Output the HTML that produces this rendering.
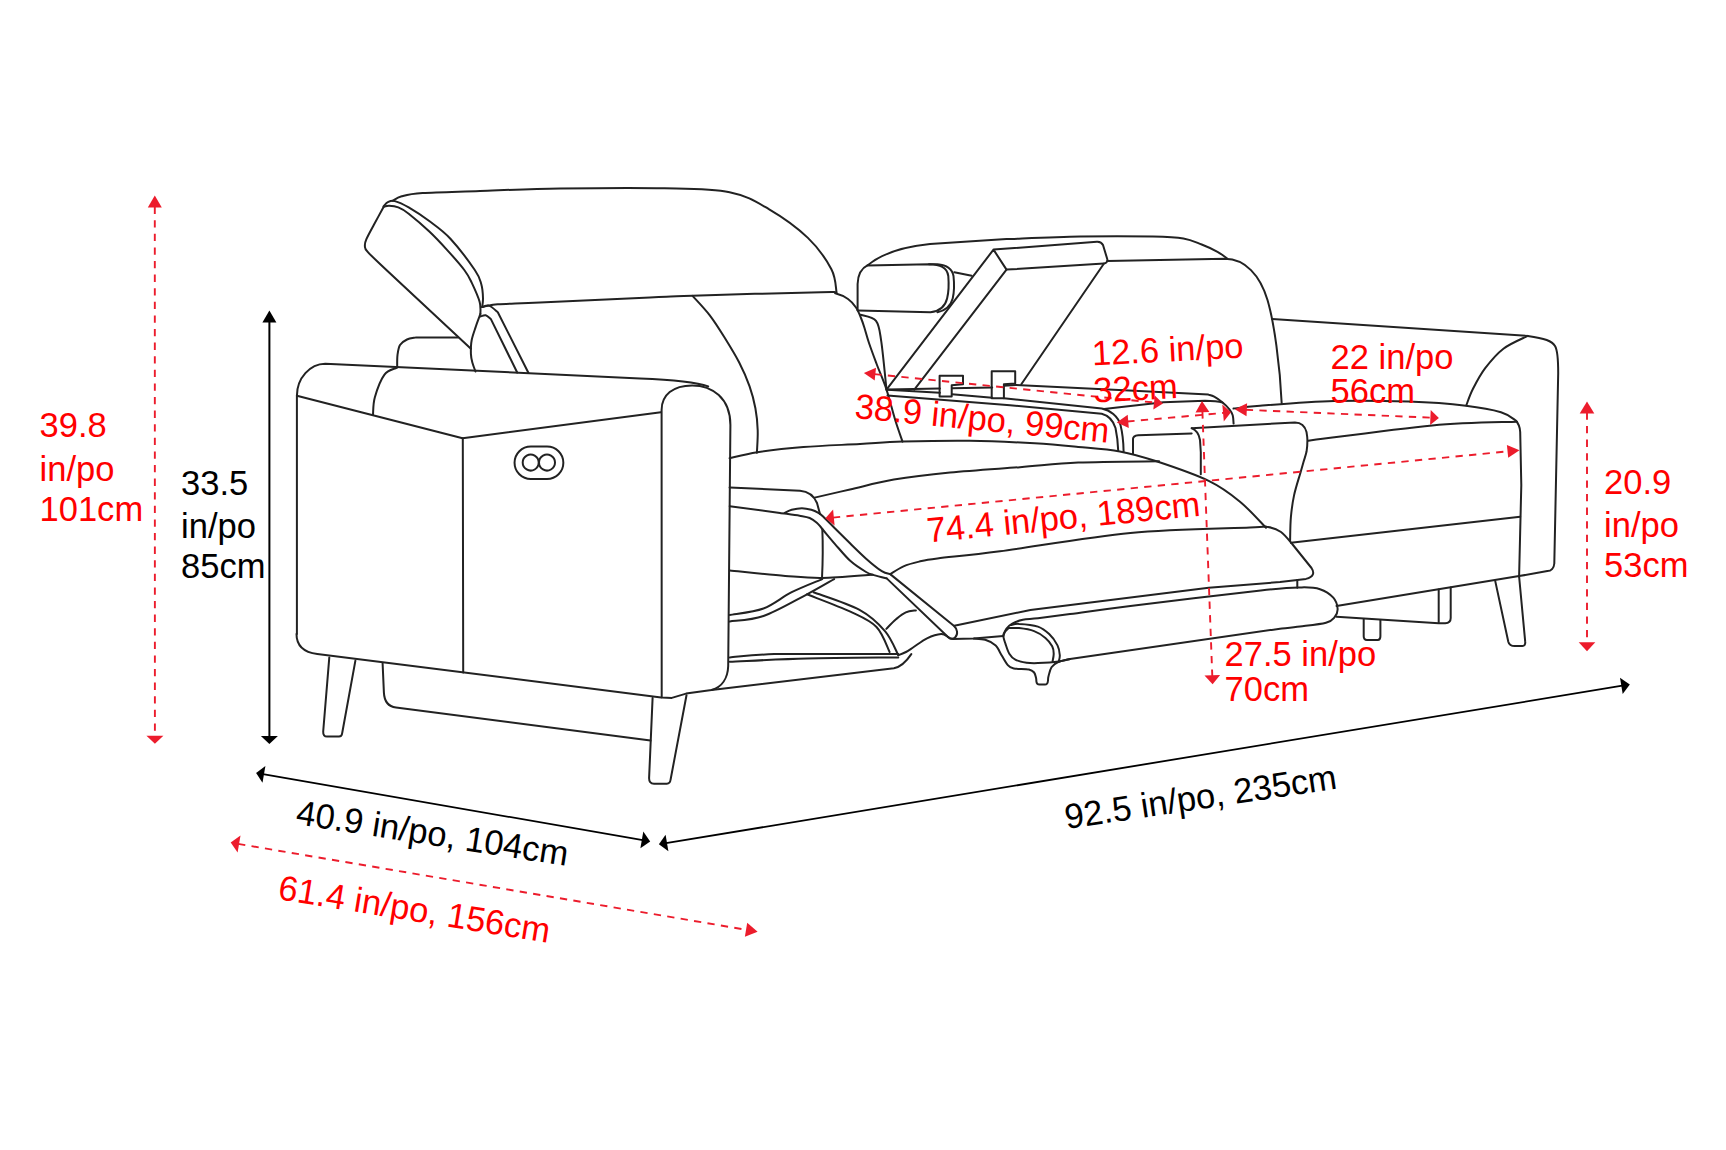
<!DOCTYPE html>
<html><head><meta charset="utf-8">
<style>
html,body{margin:0;padding:0;background:#fff;}
body{width:1726px;height:1150px;overflow:hidden;}
svg{display:block;}
text{font-family:"Liberation Sans",sans-serif;font-size:35px;}
.r{fill:#ff0000;}
.k{fill:#000;}
</style></head><body>
<svg width="1726" height="1150" viewBox="0 0 1726 1150">
<g fill="none" stroke="#222" stroke-width="2" stroke-linecap="round" stroke-linejoin="round">
<path d="M383.7,206.7 C382.1,209.7 376.8,219.4 373.9,224.8 C371,230.2 367.8,235.9 366.3,239.4 C364.8,242.9 364.7,243.6 364.9,245.7 C365.1,247.8 364.1,247.8 367.7,251.9 C371.3,256 383.3,267 386.4,270 L470.9,348.7"/>
<path d="M383.7,206.7 C384.6,206.5 386.8,205.6 389.2,205.7 C391.6,205.8 395.1,206.1 398.3,207.4 C401.6,208.7 403.5,209.6 408.7,213.7 C413.9,217.8 423.2,225.7 429.6,231.7 C436,237.7 441.2,243.4 447,249.8 C452.8,256.2 460.2,264.5 464.3,270 C468.4,275.5 469.1,277.3 471.7,282.6 C474.2,287.9 478.2,296.5 479.6,301.7 C481.1,306.9 480.3,311.9 480.4,313.9"/>
<path d="M480.4,313.9 C479.7,315.9 477.4,321.6 476,326 C474.6,330.4 472.6,335.4 471.7,340 C470.8,344.6 470.8,350.1 470.9,353.9 C471,357.7 471.7,360.1 472.5,363 C473.3,365.9 475,370.1 475.5,371.5"/>
<path d="M383.7,206.3 C384.4,205.6 385.9,203.1 387.8,202.2 C389.7,201.3 391.3,200.2 394.8,201.1 C398.3,202 402.9,204 408.7,207.4 C414.5,210.8 422.7,216.1 429.6,221.3 C436.6,226.5 442.9,230.6 450.4,238.7 C457.9,246.8 469.6,262.4 474.8,270 C480,277.6 479.9,279.6 481.3,284.3 C482.7,289 482.9,294.5 483,298.3 C483.1,302.1 482.3,305.6 482.2,307"/>
<path d="M392.7,200.8 C394.2,200.1 396.7,197.6 401.7,196.3 C406.7,195 409.6,194 422.6,193.1 C435.7,192.2 457.1,191.8 480,191 C502.9,190.2 529.3,188.9 560,188.5 C590.7,188.1 636.1,187.7 664.4,188.3 C692.7,188.9 712.2,188.7 729.6,192.2 C747,195.7 755.8,201.5 768.8,209.1 C781.8,216.7 797.5,227.9 807.9,237.9 C818.3,247.9 826.6,260.1 831.4,269.2 C836.2,278.3 835.7,288.7 836.6,292.6"/>
<path d="M482.2,307 C483.4,306.8 486.5,306.1 489.1,305.6 C491.7,305.2 489.3,304.8 497.8,304.3 C506.3,303.8 514.6,303.6 540,302.5 C565.4,301.4 624.6,298.5 650,297.4 C675.4,296.3 663.7,296.6 692.2,295.7 C720.7,294.8 796.9,292.6 820.9,292.2 C844.9,291.8 831.5,292.4 836,293.5 C840.5,294.6 844.7,296.7 848,299 C851.3,301.3 853.8,304.3 856,307.5 C858.2,310.7 859.6,314.6 861,318 C862.4,321.4 863.2,323.8 864.5,328 C865.8,332.2 866.9,336.8 869,343 C871.1,349.2 874.1,357.2 877,365 C879.9,372.8 883.5,380.4 886.5,389.6 C889.5,398.8 892.5,411.3 895.2,420 C897.9,428.7 901.3,438 902.5,441.6"/>
<path d="M482.2,307 C483.4,306.8 486.5,304.7 489.1,305.6 C491.7,306.5 496.4,311.1 497.8,312.2 L528.5,373"/>
<path d="M480.4,316.5 C481.3,316.3 483.9,314.8 485.7,315.2 C487.4,315.6 490,318.5 490.9,319.1 L517.2,372.5"/>
<path d="M692.6,295.9 C695.4,299.1 704.3,308.2 709.6,315.1 C714.9,322 719.5,329.4 724.4,337.3 C729.3,345.2 735,354.4 739.2,362.5 C743.4,370.6 746.8,378.6 749.5,386.2 C752.2,393.8 754,400.9 755.4,408.3 C756.8,415.7 757.5,423.1 757.7,430.5 C758,437.9 757,449 756.9,452.7"/>
<path d="M397.2,367.5 C397.2,365.4 397,358.8 397.5,355 C398,351.2 398.4,347.6 400,345 C401.6,342.4 404.3,340.8 407,339.5 C409.7,338.2 414.5,337.8 416,337.4 L457.8,337.4"/>
<path d="M296.9,633.9 L296.9,395.7 C297,378 310,364 325.2,363.8 L640,378.4 C670,379.5 695,381.5 708.2,386.4"/>
<path d="M396.5,367.8 C394.5,369 387.9,369.9 384.3,374.8 C380.7,379.7 376.7,390.7 374.8,397.4 C372.9,404.1 373.3,411.9 373,414.8"/>
<path d="M296.9,395.7 L462.6,438.3 L660.9,412.2"/>
<path d="M462.8,438.3 L463.2,672.6"/>
<path d="M661.7,697.4 L661.6,410 C661.6,395 673,385.4 692.2,385.4 C712,385.4 730.4,398 730.4,425 L728.2,666 C727.8,678 722,687 711.6,690 L686.1,693.6 L671.8,697.9 L661.7,697.4"/>
<path d="M296.5,633.9 C296.5,645 302,652 317.3,653.9 L661.1,697.4"/>
<path d="M530.9,446.4 L547,446.4 A16.3,16.3 0 0 1 547,479.1 L530.9,479.1 A16.3,16.3 0 0 1 530.9,446.4 Z"/>
<path d="M538.7,462.6 A8,8 0 1 1 538.7,462.5 Z"/>
<path d="M555,462.6 A8,8 0 1 1 555,462.5 Z"/>
<path d="M329.3,657.4 L323.2,731.5 C323,735 324.5,736.6 327,736.6 L339,736.6 C341,736.6 342,735 342.2,733 L355.4,660.6"/>
<path d="M382.6,663.3 L383.9,692.6 C384.3,701 388,706.5 396,707.5 L650.5,740.6"/>
<path d="M652.6,697.9 L649.1,777.9 C649,781.5 650.5,783.7 654,783.7 L666.8,783.7 C669,783.7 670.3,782 670.6,779.5 L686.5,695.2"/>
<path d="M729.6,458.3 C734.2,457.3 745.1,454.1 757.4,452.2 C769.7,450.3 786.4,448.4 803.5,447 C820.6,445.6 843.5,444.9 860,444 C876.5,443.1 884.2,442.1 902.5,441.6 C920.8,441.1 947.8,440.5 969.8,440.8 C991.8,441.1 1016.6,442.3 1034.7,443.3 C1052.8,444.3 1064,445.5 1078.2,446.9 C1092.4,448.2 1106.8,449 1119.8,451.4 C1132.8,453.8 1141.7,456.4 1156.5,461.3 C1171.3,466.2 1194.8,474.2 1208.7,480.9 C1222.6,487.6 1230.5,493.9 1240,501.7 C1249.5,509.5 1261.7,523.4 1266,527.8"/>
<path d="M814.6,497.6 C820.5,496.2 836.8,492.5 850,489.5 C863.2,486.5 877.2,482.4 893.9,479.6 C910.6,476.8 929,474.6 950,472.5 C971,470.4 998.6,468.8 1020,467.2 C1041.4,465.6 1055,463.6 1078.2,462.6 C1101.4,461.6 1145.6,461.5 1159.1,461.3"/>
<path d="M729.6,487.5 L800,490.8 C808,491.5 814,496 817,503 L820,514"/>
<path d="M729.7,506.2 L780,512.9 C783.3,513.4 794.6,514.9 799.6,515.7 C804.6,516.6 806.8,516.8 809.7,518 C812.6,519.2 814.7,520.9 816.8,522.7 C818.9,524.5 819.3,525.5 822.3,529 C825.3,532.5 830.1,538.4 834.8,543.8 C839.5,549.1 845.3,556.4 850.5,561.1 C855.7,565.8 862.2,569.7 866.1,572 C870,574.3 870.5,574 873.9,575.1 C877.3,576.2 884.6,577.9 886.7,578.4"/>
<path d="M784.7,512.9 C785.9,512.4 788.8,510.6 791.7,509.8 C794.6,509 798.6,508.2 801.9,508.2 C805.2,508.2 808.5,509 811.3,509.8 C814,510.6 816.3,511.7 818.4,512.9 C820.5,514.1 821.1,514.7 823.8,517.2 C826.5,519.8 830.3,523.8 834.8,528.2 C839.2,532.6 845.3,538.7 850.5,543.8 C855.7,548.9 860.9,554.1 866.1,558.7 C871.3,563.3 877.8,568.6 881.8,571.2 C885.8,573.8 888.8,573.6 890.2,574.1"/>
<path d="M822.3,529 C822.8,540 822.9,560 822,578.3"/>
<path d="M729.8,570.4 C739,571.3 769.8,574.6 785.2,575.9 C800.6,577.2 807.7,578.2 822.2,578 C836.7,577.8 863.9,575.3 872.2,574.8"/>
<path d="M890.2,574.1 C892.4,572.8 898.7,568.4 903.5,566.3 C908.3,564.2 913.5,562.9 919.1,561.6 C924.8,560.3 923.9,560.2 937.4,558.5 C950.9,556.8 967.8,555.5 1000,551.3 C1032.2,547 1088.7,537 1130.4,533 C1172.1,529 1227.1,528.5 1250,527.5 C1272.9,526.5 1262.8,526.2 1268,527 C1273.2,527.8 1276.9,529.1 1281,532 C1285.1,534.9 1290.7,542.4 1292.6,544.5 L1311.5,568 C1314.5,572.5 1314,577 1306,578.9 L1280,582 L1208.7,587.8 L1030.4,610 L954.3,625.8"/>
<path d="M890.2,574.1 L953.8,625.8 C957.5,629 958.2,634.5 955.3,637.3 C953.5,639 950.5,639.3 948,637 L886.7,578.4"/>
<path d="M973.9,638.6 C975.8,638.8 981.6,638.7 985.2,639.8 C988.8,640.9 993.2,643.2 995.7,645.4 C998.2,647.6 998.3,649.6 1000.3,652.9 C1002.3,656.2 1005.5,662.6 1007.8,665.2 C1010,667.8 1010.3,667.7 1013.8,668.4 C1017.3,669.1 1025.5,668.8 1028.9,669.5 C1032.3,670.2 1032.9,671.1 1034.1,672.5 C1035.3,673.9 1035.6,676.3 1036,677.8 C1036.4,679.3 1036.3,680.9 1036.4,681.5 C1036.6,684 1037.5,684.6 1039.5,684.6 L1045,684.6 C1047,684.6 1047.8,683 1048,680.5 C1048.1,679.8 1047.9,678.5 1048.5,676.3 C1049.1,674.1 1049.9,669.6 1051.5,667.2 C1053.1,664.8 1055.1,663.4 1058.2,662 C1061.3,660.6 1068,659.5 1070,659"/>
<path d="M948,637 C950,639 951.5,639 953,639 L973.9,638.6 L1003.3,636"/>
<path d="M1003.3,636 C1003.8,634.8 1004.8,630.9 1006.3,628.8 C1007.8,626.7 1009.5,625.1 1012.3,623.6 C1015,622.1 1018.5,620.7 1022.8,619.8 C1027.1,618.9 1030,619.2 1037.9,618.3 C1045.8,617.3 1054.6,616.1 1070,614.1 C1085.4,612.1 1098.6,610 1130.4,606 C1162.2,602 1232.2,593.5 1260.8,590.4 C1289.3,587.3 1291.8,587.6 1301.7,587.4 C1311.6,587.2 1314.7,587.5 1320,589.2 C1325.3,590.9 1330.4,594.5 1333.3,597.7 C1336.2,601 1337.4,605.5 1337.6,608.7 C1337.8,612 1336.5,614.9 1334.6,617.2 C1332.7,619.5 1331.8,621.2 1326,622.7 C1320.2,624.2 1307.7,625.5 1300,626.5 C1292.3,627.5 1283.3,628.3 1280,628.7 L1070,659"/>
<path d="M1010.8,625.1 C1012.2,624.9 1014.6,623.6 1019.1,623.9 C1023.6,624.1 1032.9,624.9 1037.9,626.6 C1042.9,628.3 1045.9,631 1049.2,634.1 C1052.5,637.2 1055.7,641.9 1057.5,645.4 C1059.3,648.9 1059.6,652.4 1059.8,655.2 C1060,658 1058.8,660.9 1058.6,662"/>
<path d="M1008.5,628.1 C1010.3,628.1 1014.8,627.6 1019.1,628.1 C1023.4,628.6 1029.7,629.5 1034.1,631.1 C1038.5,632.7 1042.4,635.4 1045.4,637.9 C1048.4,640.4 1050.8,643.6 1052.2,646.2 C1053.6,648.8 1053.6,651.2 1053.7,653.7 C1053.8,656.2 1052.8,660 1052.6,661.2"/>
<path d="M1008.5,628.1 C1007.9,628.8 1005.7,630.7 1004.8,632 C1003.9,633.3 1003.2,634 1003.3,636 C1003.4,638 1004.5,640.9 1005.5,643.9 C1006.5,646.9 1007.7,651.1 1009.3,653.7 C1010.9,656.3 1012.4,658.2 1015.3,659.7 C1018.2,661.2 1022.8,662.1 1026.6,662.7 C1030.4,663.3 1032.6,663.3 1037.9,663.1 C1043.2,662.9 1053.2,662.3 1058.6,661.6 C1063.9,660.9 1068.1,659.4 1070,659"/>
<path d="M1297.3,580 L1297.3,587.8"/>
<path d="M729.8,615 C735.4,613.9 753.2,612.3 763.5,608.5 C773.8,604.7 781.9,597.1 791.7,592.2 C801.5,587.3 817.1,581.3 822.2,579.1"/>
<path d="M729.8,621.5 C735.4,620.6 750.6,620.5 763.5,616 C776.4,611.5 795.2,600.4 807,594.3 C818.8,588.1 829.6,581.6 834.1,579.1"/>
<path d="M807,594.3 C814.2,597.2 838.8,606.2 850.4,611.7 C862,617.2 870,620.3 876.5,627 C883,633.7 887.4,647.8 889.6,652"/>
<path d="M813.5,592.2 C821.1,595.1 847.1,603.1 859.1,609.6 C871.1,616.1 878.7,623.7 885.2,631.3 C891.7,638.9 896.1,651.2 898.3,655.2"/>
<path d="M729.8,657.4 C737.2,656.9 754.2,654.6 774.3,654.1 C794.4,653.6 829.7,654.1 850.4,654.1 C871.1,654.1 890.3,654.1 898.3,654.1"/>
<path d="M729.8,661.7 C742.7,661.2 778.9,659.2 807,658.5 C835.1,657.8 883.1,657.6 898.3,657.4"/>
<path d="M886.3,628.9 C887.9,627.3 892.5,622.2 895.7,619.5 C899,616.8 902.4,613.9 905.8,612.4 C909.2,610.9 914.2,610.7 915.9,610.4"/>
<path d="M898.3,655.2 C899.6,654.7 903.4,653.4 906,652 C908.6,650.6 910.2,649.3 913.7,647 C917.2,644.7 922.4,640.5 927,638.3 C931.6,636.1 937.6,634.2 941.1,634 C944.6,633.8 946.9,636.5 948,637"/>
<path d="M711.6,690 L893.9,668.3 C900,667 906,662 911.3,654.1"/>
<path d="M857.6,310.4 L857.6,284 C858,273 862,268 867.8,265.2 C880,255 900,247 930,244 L1006.5,239.1 C1018.8,238.7 1055.6,237 1080,236.6 C1104.4,236.2 1135.8,236.3 1153,236.6 C1170.2,236.9 1175.3,237.1 1183.4,238.4 C1191.5,239.7 1196,242.3 1201.7,244.5 C1207.4,246.7 1213.2,249.5 1217.5,251.8 C1221.8,254.1 1225.6,257.4 1227.2,258.5"/>
<path d="M867.4,265.5 L929,264.3 C940,264.5 947,267 948.3,276 C949,285 948.5,293 947.1,298.4 C945.5,305 941,311 930.4,312.3 L857.8,310.4"/>
<path d="M929,264.3 L937.4,264.3 C946,265 952,268 953.5,276 C954.5,285 954,293 952.7,298.4 C951,305 947,310 937.4,312.3"/>
<path d="M954.3,272.2 L971.7,275.7"/>
<path d="M860.4,314.8 C863,315.8 872.5,316.4 876,320.9 C879.5,325.4 879.5,330.2 881.3,341.7 C883,353.1 885.6,381.6 886.5,389.6"/>
<path d="M886.5,389.6 L993.5,249.6 L1096.9,241.7 C1100,241.5 1102,243 1103,245 L1107.4,259.5 C1107.5,262 1106,263.5 1104,263.5 L1006.5,269.6 L993.5,249.6"/>
<path d="M1006.5,269.6 L914.3,389.6"/>
<path d="M1104,263.5 L1021.3,384.3"/>
<path d="M939.6,375.7 L963,375.7 L963,384.3 L951.7,385.2 L951.7,396.5 L939.6,396.5 Z"/>
<path d="M991.7,371.3 L1015.2,371.3 L1015.2,383.5 L1003.9,384.3 L1003.9,398.3 L991.7,398.3 Z"/>
<path d="M887.2,389.4 L939.9,388.6 M951.9,388.2 L992.2,387.5 M1003.9,385.8 L1015.7,385 L1129,390.5 L1208.4,394.6 C1209.4,395 1211.8,395.4 1214.2,396.7 C1216.6,398 1220.1,400.5 1222.6,402.6 C1225.1,404.7 1227.7,407.2 1229.4,409.3 C1231.1,411.4 1232,412.8 1232.7,415.2 C1233.4,417.6 1233.4,422.2 1233.6,423.6"/>
<path d="M887.2,389.8 L939.9,392.8 M951.9,394.3 L992.2,397.7 M1003.9,398.2 L1101.7,408.4 C1110,410 1118,416 1120.5,425 C1122.5,433 1123.5,445 1123.6,451.5"/>
<path d="M887.5,395.4 L1010,405.2 L1101.7,413.8 C1108,415.5 1113,420 1115.5,428 C1117,435 1118,445 1118.2,450.5"/>
<path d="M1104,409.1 L1163.4,402.3 L1205.1,400.8 C1212,400.8 1218,401.2 1222.6,402.6"/>
<path d="M1191.7,428.2 L1295,422.4 C1301,422.5 1305,426 1306.5,432 C1306.7,433.3 1307.4,436.8 1307.4,440 C1307.4,443.2 1307.2,447.6 1306.6,451.3 C1305.9,455 1304.5,458.4 1303.5,462 C1302.5,465.6 1301.9,467.7 1300.3,473.2 C1298.7,478.7 1295.7,487.8 1294.1,495.1 C1292.5,502.4 1291.6,509.4 1290.9,517 C1290.2,524.6 1290.2,537 1290.1,541"/>
<path d="M1191.7,428.2 C1196,430 1199,434 1200,440 L1200.8,452.2 L1200.8,474.3"/>
<path d="M1133,453.5 L1133,439.1 C1133,437 1135,435.5 1138.2,435.2 L1191.7,433.4"/>
<path d="M1107.4,261 L1225.2,258.8 C1245,259 1260,275 1267.5,300 C1274,322 1280,365 1281.7,403.5"/>
<path d="M1272.2,319.1 L1527.8,335.9 C1545,338.5 1552,341 1555,346 C1557.5,350 1558.2,356 1558.2,373 L1554.3,563.5 C1554,568 1551,571 1547.4,571.1 L1519.1,576.1 L1336.5,605.9"/>
<path d="M1527.8,335.9 C1523.7,338 1510.5,343.3 1503.4,348.7 C1496.3,354.1 1490.3,361.5 1485.2,368.2 C1480.1,374.9 1476.2,382.6 1473,388.8 C1469.8,395 1467.4,402.6 1466.3,405.3"/>
<path d="M1233.5,408.6 C1237.9,408.1 1243.2,407 1260,405.7 C1276.8,404.4 1309.5,401.7 1334.2,401 C1358.9,400.3 1386.4,400.8 1408.3,401.6 C1430.2,402.4 1450.3,403.9 1465.8,405.7 C1481.2,407.5 1492.7,409.7 1501,412.2 C1509.3,414.7 1513.3,419.1 1515.8,420.5 C1519,424 1520,428 1520.2,432 L1521.3,485.2 L1519.1,576.5"/>
<path d="M1308.3,440.7 C1329,438.1 1397.4,428.6 1432.2,425.4 C1467,422.2 1502.9,422.3 1517,421.7"/>
<path d="M1290.9,542.8 L1520.2,516.7"/>
<path d="M1336.5,616.7 L1438.7,623.3 L1445.2,623.3 C1449,623 1450.7,621.5 1450.7,618 L1450.7,587.4"/>
<path d="M1438.7,589.6 L1438.7,622.2"/>
<path d="M1363.7,618.9 L1363.7,636.3 C1363.7,639 1365,640 1367,640 L1377.8,640 C1379.5,640 1380.4,638.5 1380.4,636.3 L1380.4,620"/>
<path d="M1495.2,580.9 L1508.3,641.7 C1509,644.5 1511,646.1 1514.8,646.1 L1522.4,646.1 C1524.5,646.1 1525.5,644 1525.2,641.7 L1519.1,576.5"/>
</g>
<g>
<path d="M154.8,206.6 L154.9,736.8" stroke="#ec1c2c" stroke-width="1.9" fill="none" stroke-dasharray="7.3 6.3"/><path d="M154.8,195.6 L161.8,207.6 L147.8,207.6 Z" fill="#ec1c2c"/><path d="M154.9,743.8 L146.4,735.8 L163.4,735.8 Z" fill="#ec1c2c"/>
<path d="M269.4,321.6 L269.4,736.9" stroke="#000" stroke-width="2" fill="none"/><path d="M269.4,310.6 L276.4,322.6 L262.4,322.6 Z" fill="#000"/><path d="M269.4,743.9 L260.9,735.9 L277.9,735.9 Z" fill="#000"/>
<path d="M1587,412.4 L1587,643.3" stroke="#ec1c2c" stroke-width="1.9" fill="none" stroke-dasharray="7.3 6.3"/><path d="M1587,401.4 L1594.3,413.4 L1579.7,413.4 Z" fill="#ec1c2c"/><path d="M1587,651.3 L1578.7,642.3 L1595.3,642.3 Z" fill="#ec1c2c"/>
<path d="M263,774.2 L642.8,840.1" stroke="#000" stroke-width="1.8" fill="none"/><path d="M256.1,773 L265.4,766 L262.5,782.7 Z" fill="#000"/><path d="M650.2,841.4 L640.4,848.3 L643.3,831.6 Z" fill="#000"/>
<path d="M666,843.1 L1622.3,685.7" stroke="#000" stroke-width="1.8" fill="none"/><path d="M658.9,844.3 L665.6,834.7 L668.4,851.3 Z" fill="#000"/><path d="M1629.8,684.5 L1622.7,694.1 L1620,677.7 Z" fill="#000"/>
<path d="M238.1,843.9 L747,929.9" stroke="#ec1c2c" stroke-width="1.9" fill="none" stroke-dasharray="7.3 6.3"/><path d="M230.7,842.6 L240.5,835.5 L237.6,852.5 Z" fill="#ec1c2c"/><path d="M757.6,931.7 L744.9,936.7 L747.2,922.8 Z" fill="#ec1c2c"/>
<path d="M874.3,374.1 L1155,402.6" stroke="#ec1c2c" stroke-width="1.9" fill="none" stroke-dasharray="7.3 6.3"/><path d="M863.9,373 L876,367.7 L874.7,380.6 Z" fill="#ec1c2c"/><path d="M1163,403.4 L1153.3,409.5 L1154.8,395.5 Z" fill="#ec1c2c"/>
<path d="M1127.3,421.5 L1224,412.9" stroke="#ec1c2c" stroke-width="1.9" fill="none" stroke-dasharray="7.3 6.3"/><path d="M1116.8,422.4 L1127.7,414.7 L1128.8,428.1 Z" fill="#ec1c2c"/><path d="M1231,412.3 L1223.8,421.5 L1222.3,404.5 Z" fill="#ec1c2c"/>
<path d="M1245.8,409.8 L1431.4,417.7" stroke="#ec1c2c" stroke-width="1.9" fill="none" stroke-dasharray="7.3 6.3"/><path d="M1234.8,409.3 L1247.1,403.3 L1246.5,416.3 Z" fill="#ec1c2c"/><path d="M1438.9,418 L1430.1,425.1 L1430.7,410.1 Z" fill="#ec1c2c"/>
<path d="M832.9,517.6 L1508.6,451.3" stroke="#ec1c2c" stroke-width="1.9" fill="none" stroke-dasharray="7.3 6.3"/><path d="M825.4,518.3 L833.1,509.5 L834.6,525.4 Z" fill="#ec1c2c"/><path d="M1519.5,450.2 L1508.2,457.8 L1506.9,444.9 Z" fill="#ec1c2c"/>
<path d="M1202.4,411.3 L1212.3,676.3" stroke="#ec1c2c" stroke-width="1.9" fill="none" stroke-dasharray="7.3 6.3"/><path d="M1202,400.9 L1209.4,412 L1195.5,412.6 Z" fill="#ec1c2c"/><path d="M1212.6,684.3 L1204.5,675.6 L1220.1,675 Z" fill="#ec1c2c"/>
</g>
<g>

<text class="r" transform="translate(39.5,437) scale(0.987,1)">39.8</text>
<text class="r" transform="translate(39.5,480.5) scale(0.987,1)">in/po</text>
<text class="r" transform="translate(39.5,520.5) scale(0.987,1)">101cm</text>
<text class="k" transform="translate(181,495) scale(0.987,1)">33.5</text>
<text class="k" transform="translate(181,537.5) scale(0.987,1)">in/po</text>
<text class="k" transform="translate(181,577.5) scale(0.987,1)">85cm</text>
<text class="r" transform="translate(1604,494) scale(0.987,1)">20.9</text>
<text class="r" transform="translate(1604,536.5) scale(0.987,1)">in/po</text>
<text class="r" transform="translate(1604,576.5) scale(0.987,1)">53cm</text>
<text class="r" transform="translate(1330.5,369) scale(0.987,1)">22 in/po</text>
<text class="r" transform="translate(1330.5,403) scale(0.987,1)">56cm</text>
<text class="r" transform="translate(1224.5,666) scale(0.987,1)">27.5 in/po</text>
<text class="r" transform="translate(1224.5,701) scale(0.987,1)">70cm</text>
<text class="r" transform="translate(1092.5,365.5) rotate(-3) scale(0.987,1)">12.6 in/po</text>
<text class="r" transform="translate(1094,402.5) rotate(-3) scale(0.987,1)">32cm</text>
<text class="r" transform="translate(854,418) rotate(5.6) scale(0.987,1)">38.9 in/po, 99cm</text>
<text class="r" transform="translate(928,542.5) rotate(-5.6) scale(0.987,1)">74.4 in/po, 189cm</text>
<text class="k" transform="translate(295,824) rotate(8.8) scale(0.987,1)">40.9 in/po, 104cm</text>
<text class="r" transform="translate(277,899) rotate(9.2) scale(0.987,1)">61.4 in/po, 156cm</text>
<text class="k" transform="translate(1066.5,829) rotate(-8.5) scale(0.987,1)">92.5 in/po, 235cm</text>

</g>
</svg>
</body></html>
